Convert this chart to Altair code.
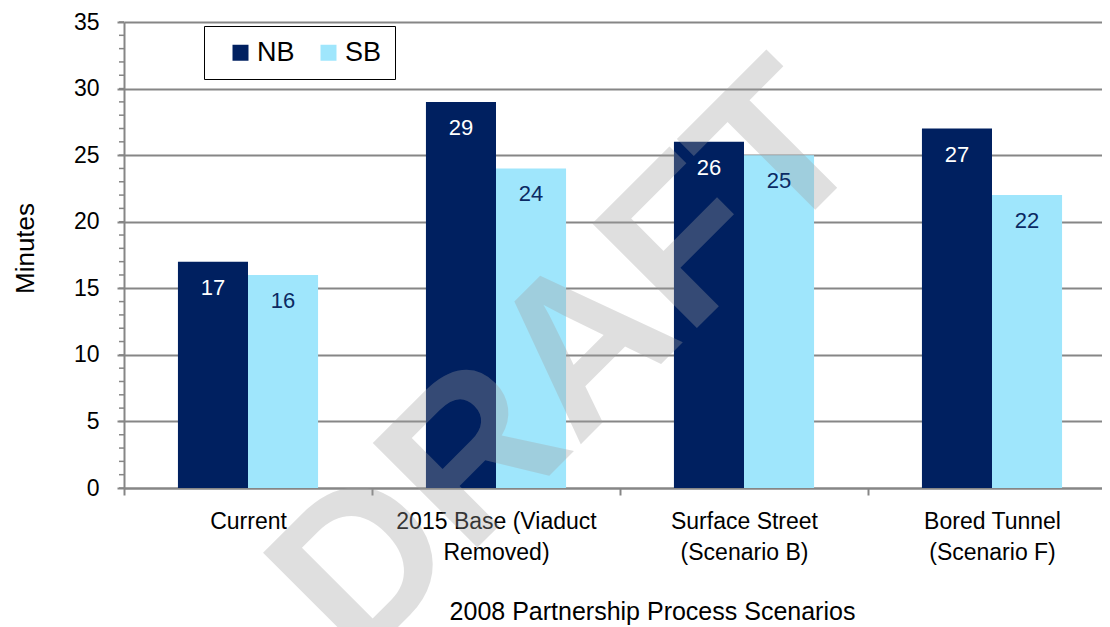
import altair as alt
import pandas as pd

categories = ["Current", "2015 Base  (Viaduct|Removed)", "Surface Street|(Scenario B)", "Bored Tunnel|(Scenario F)"]
series = ["NB", "SB"]
nb_minutes = [17, 29, 26, 27]
sb_minutes = [16, 24, 25, 22]
y_major = [0, 5, 10, 15, 20, 25, 30, 35]
y_minor = list(range(0, 36))
watermark = ["DRAFT"]

rows = []
for c, n, s in zip(categories, nb_minutes, sb_minutes):
    rows.append({"scenario": c, "dir": "NB", "minutes": n})
    rows.append({"scenario": c, "dir": "SB", "minutes": s})
df = pd.DataFrame(rows)

FONT = "Liberation Sans, Arial, sans-serif"
GREY = "#868686"
NAVY = "#002060"
CYAN = "#9FE6FC"

yscale = alt.Scale(domain=[0, 35], nice=False, zero=True)

x_enc = alt.X(
    "scenario:N", sort=categories,
    scale=alt.Scale(range=[0, 992], paddingInner=0, paddingOuter=0),
    axis=alt.Axis(
        title="2008 Partnership Process Scenarios",
        labelExpr="split(datum.label, '|')", labelAngle=0, tickBand="extent", labelLimit=0,
        labelFont=FONT, labelFontSize=23, labelColor="black", labelLineHeight=31,
        labelPadding=15, tickSize=7, tickColor=GREY, tickWidth=2,
        domainColor=GREY, domainWidth=2, grid=False,
        titleFont=FONT, titleFontSize=25, titleFontWeight="normal", titleColor="black",
        titleX=528, titleY=131, titleBaseline="alphabetic", titleAlign="center",
    ),
)
xoff = alt.XOffset("dir:N", sort=series, scale=alt.Scale(paddingOuter=0.77, paddingInner=0))

bars = alt.Chart(df).mark_bar(stroke=None).encode(
    x=x_enc,
    xOffset=xoff,
    y=alt.Y("minutes:Q", scale=yscale, axis=alt.Axis(
        values=y_major, title="Minutes", grid=True, gridColor=GREY, gridWidth=2,
        domainColor=GREY, domainWidth=2, tickColor=GREY, tickWidth=2, tickSize=7,
        labelFont=FONT, labelFontSize=23, labelColor="black", labelPadding=18,
        titleFont=FONT, titleFontSize=26, titleFontWeight="normal", titleColor="black",
        titleAngle=270, titleX=-91, titleY=226, titleBaseline="alphabetic", titleAlign="center",
    )),
    color=alt.Color("dir:N", sort=series, scale=alt.Scale(domain=series, range=[NAVY, CYAN]),
                    legend=alt.Legend(
                        orient="none", legendX=80, legendY=4, direction="horizontal", title=None,
                        strokeColor="black", fillColor="white", padding=13,
                        symbolType="square", symbolSize=256, symbolStrokeWidth=0,
                        symbolOffset=10, labelOffset=3, columnPadding=10,
                        labelFont=FONT, labelFontSize=27, labelColor="black",
                    )),
)

minor = alt.Chart(pd.DataFrame({"v": y_minor})).mark_rule(color=GREY, strokeWidth=1.5).encode(
    y=alt.Y("v:Q", scale=yscale),
    x=alt.value(-5), x2=alt.value(0),
)

mark = alt.Chart(pd.DataFrame({"t": watermark})).mark_text(
    font="Liberation Sans, Arial, sans-serif", fontSize=215, fontWeight="bold", angle=315,
    align="center", baseline="middle", color="#a0a0a0", opacity=0.33,
).encode(text="t:N", x=alt.value(445), y=alt.value(342))

labels = alt.Chart(df).mark_text(font=FONT, fontSize=22, baseline="middle", dy=26).encode(
    x=alt.X("scenario:N", sort=categories),
    xOffset=alt.XOffset("dir:N", sort=series),
    y=alt.Y("minutes:Q", scale=yscale),
    text="minutes:Q",
    color=alt.condition(alt.datum.dir == "NB", alt.value("white"), alt.value("#0b2a63")),
)

chart = alt.layer(bars, minor, mark, labels).properties(
    width=978, height=466,
    autosize=alt.AutoSizeParams(type="none"),
    padding={"left": 116, "top": 14, "right": 0, "bottom": 139},
).configure_view(stroke=None)

chart.save("out.html", embed_options={"renderer": "svg", "actions": False})
